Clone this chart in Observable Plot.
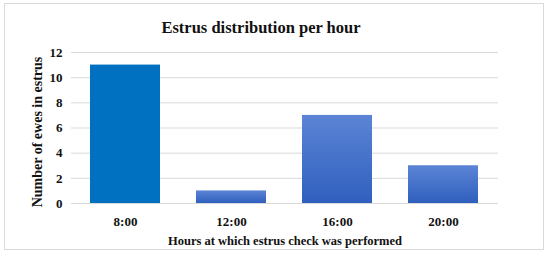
<!DOCTYPE html>
<html>
<head>
<meta charset="utf-8">
<script src="https://cdn.jsdelivr.net/npm/d3@7"></script>
<script src="https://cdn.jsdelivr.net/npm/@observablehq/plot@0.6"></script>
<style>
  html, body { margin: 0; padding: 0; background: #fff; }
  #wrap { position: relative; width: 550px; height: 257px; overflow: hidden; }
  #frame { position: absolute; left: 4px; top: 3px; width: 540px; height: 247px; border: 1px solid #d9d9d9; box-sizing: border-box; }
  #title { position: absolute; left: 161px; top: 18px; width: 200px; text-align: center; white-space: nowrap;
    font: bold 16.5px "Liberation Serif", serif; color: #111; }
  #chart { position: absolute; left: 0; top: 40px; }
  #chart svg { overflow: visible; }
</style>
</head>
<body>
<div id="wrap">
  <div id="frame"></div>
  <div id="title">Estrus distribution per hour</div>
  <div id="chart"></div>
</div>
<script>
const hours = ["8:00", "12:00", "16:00", "20:00"];
const ewes = [11, 1, 7, 3];
const yTicks = [0, 2, 4, 6, 8, 10, 12];

const data = hours.map((h, i) => ({hour: h, count: ewes[i]}));

const plot = Plot.plot({
  width: 550,
  height: 217,
  marginTop: 12,
  marginBottom: 54,
  marginLeft: 71,
  marginRight: 52,
  style: {fontFamily: "'Liberation Serif', serif", fontWeight: "bold", fontSize: "13px", color: "#111", background: "transparent"},
  x: {domain: hours, paddingInner: 0.335, paddingOuter: 0.1675, label: null},
  y: {domain: [0, 12], ticks: yTicks, label: null},
  color: {type: "identity"},
  marks: [
    Plot.ruleY(yTicks, {stroke: "#d9d9d9", strokeWidth: 1}),
    Plot.barY(data, {x: "hour", y: "count", fill: d => d.hour === hours[0] ? "#0070C0" : "url(#barGrad)"}),
    Plot.axisY({ticks: yTicks, tickSize: 0, tickPadding: 9, label: null}),
    Plot.axisX({tickSize: 0, tickPadding: 13, label: null}),
    Plot.text(["Hours at which estrus check was performed"], {frameAnchor: "bottom", dy: 41, fontSize: 12.5, fontWeight: "bold"}),
    Plot.text(["Number of ewes in estrus"], {frameAnchor: "left", textAnchor: "middle", dx: -34, dy: 4, rotate: -90, fontSize: 14, fontWeight: "bold"})
  ]
});

const svg = d3.select(plot);
const defs = svg.insert("defs", ":first-child");
const g = defs.append("linearGradient").attr("id", "barGrad")
  .attr("x1", 0).attr("y1", 0).attr("x2", 0).attr("y2", 1);
g.append("stop").attr("offset", "0%").attr("stop-color", "#5b84d5");
g.append("stop").attr("offset", "100%").attr("stop-color", "#2f5fbe");

document.getElementById("chart").appendChild(plot);
</script>
</body>
</html>
